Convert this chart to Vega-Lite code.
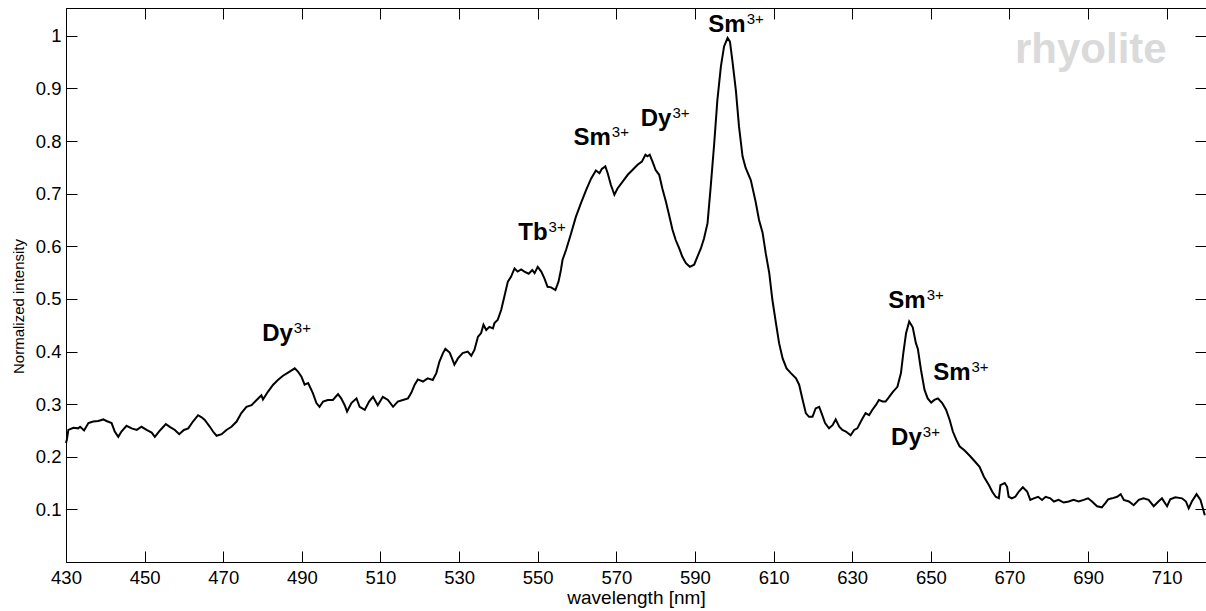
{
  "$schema": "https://vega.github.io/schema/vega-lite/v6.json",
  "width": 1140,
  "height": 554,
  "autosize": "none",
  "padding": {"left": 66, "top": 8, "right": 0, "bottom": 49},
  "background": "white",
  "config": {
    "view": {"stroke": "black", "strokeWidth": 1},
    "font": "Liberation Sans",
    "axis": {
      "grid": false,
      "domainColor": "black",
      "tickColor": "black",
      "tickSize": -11,
      "tickWidth": 1,
      "labelColor": "black",
      "titleColor": "black",
      "labelFont": "Liberation Sans",
      "titleFont": "Liberation Sans",
      "labelFontSize": 18.5,
      "titleFontSize": 19,
      "titleFontWeight": "normal",
      "labelFlush": false,
      "labelOverlap": false
    }
  },
  "datasets": {
    "spectrum": [
      {"w":430.0,"v":0.226},{"w":430.2,"v":0.232},{"w":430.6,"v":0.251},{"w":431.9,"v":0.255},{"w":433.1,"v":0.254},{"w":433.6,"v":0.257},{"w":434.6,"v":0.250},{"w":435.7,"v":0.264},{"w":436.9,"v":0.267},{"w":438.2,"v":0.268},{"w":439.5,"v":0.271},{"w":440.3,"v":0.268},{"w":441.6,"v":0.264},{"w":442.4,"v":0.248},{"w":443.3,"v":0.238},{"w":444.1,"v":0.248},{"w":445.4,"v":0.259},{"w":446.7,"v":0.254},{"w":448.0,"v":0.251},{"w":449.2,"v":0.257},{"w":450.5,"v":0.251},{"w":451.8,"v":0.246},{"w":452.6,"v":0.238},{"w":453.9,"v":0.250},{"w":455.4,"v":0.262},{"w":456.4,"v":0.257},{"w":457.7,"v":0.251},{"w":458.8,"v":0.243},{"w":460.0,"v":0.251},{"w":461.1,"v":0.254},{"w":462.3,"v":0.267},{"w":463.6,"v":0.279},{"w":464.5,"v":0.275},{"w":465.3,"v":0.270},{"w":466.6,"v":0.257},{"w":467.4,"v":0.248},{"w":468.3,"v":0.240},{"w":469.6,"v":0.243},{"w":470.8,"v":0.251},{"w":472.1,"v":0.257},{"w":473.4,"v":0.267},{"w":474.6,"v":0.283},{"w":475.9,"v":0.295},{"w":477.2,"v":0.298},{"w":478.5,"v":0.308},{"w":479.7,"v":0.317},{"w":480.1,"v":0.309},{"w":481.4,"v":0.324},{"w":482.7,"v":0.337},{"w":483.9,"v":0.346},{"w":485.2,"v":0.354},{"w":486.9,"v":0.362},{"w":488.2,"v":0.368},{"w":489.0,"v":0.362},{"w":489.9,"v":0.352},{"w":490.7,"v":0.337},{"w":491.6,"v":0.340},{"w":492.8,"v":0.321},{"w":493.7,"v":0.302},{"w":494.5,"v":0.295},{"w":495.4,"v":0.305},{"w":496.6,"v":0.308},{"w":497.9,"v":0.308},{"w":499.2,"v":0.319},{"w":500.0,"v":0.311},{"w":500.9,"v":0.298},{"w":501.5,"v":0.286},{"w":502.6,"v":0.302},{"w":503.9,"v":0.311},{"w":504.7,"v":0.295},{"w":506.0,"v":0.289},{"w":507.1,"v":0.305},{"w":508.1,"v":0.314},{"w":509.3,"v":0.298},{"w":510.6,"v":0.314},{"w":511.9,"v":0.308},{"w":513.2,"v":0.295},{"w":514.4,"v":0.305},{"w":515.7,"v":0.308},{"w":517.0,"v":0.311},{"w":517.8,"v":0.321},{"w":518.7,"v":0.337},{"w":519.5,"v":0.347},{"w":520.8,"v":0.343},{"w":522.0,"v":0.349},{"w":523.3,"v":0.346},{"w":524.2,"v":0.359},{"w":525.0,"v":0.381},{"w":525.9,"v":0.397},{"w":526.5,"v":0.405},{"w":527.6,"v":0.398},{"w":528.2,"v":0.387},{"w":528.8,"v":0.375},{"w":529.7,"v":0.387},{"w":530.9,"v":0.397},{"w":532.2,"v":0.400},{"w":533.1,"v":0.392},{"w":533.9,"v":0.403},{"w":534.8,"v":0.428},{"w":535.6,"v":0.435},{"w":536.2,"v":0.451},{"w":536.9,"v":0.441},{"w":537.7,"v":0.447},{"w":538.6,"v":0.444},{"w":539.0,"v":0.454},{"w":539.8,"v":0.460},{"w":540.7,"v":0.479},{"w":541.5,"v":0.504},{"w":542.4,"v":0.533},{"w":543.2,"v":0.542},{"w":544.1,"v":0.558},{"w":544.9,"v":0.552},{"w":545.8,"v":0.556},{"w":546.6,"v":0.552},{"w":547.7,"v":0.548},{"w":548.6,"v":0.555},{"w":549.2,"v":0.549},{"w":550.0,"v":0.561},{"w":550.9,"v":0.552},{"w":551.7,"v":0.539},{"w":552.5,"v":0.523},{"w":553.4,"v":0.522},{"w":554.5,"v":0.517},{"w":555.3,"v":0.533},{"w":555.9,"v":0.555},{"w":556.3,"v":0.574},{"w":557.2,"v":0.593},{"w":558.5,"v":0.625},{"w":559.7,"v":0.656},{"w":561.0,"v":0.682},{"w":562.3,"v":0.707},{"w":563.6,"v":0.729},{"w":564.8,"v":0.744},{"w":565.7,"v":0.739},{"w":566.3,"v":0.747},{"w":567.2,"v":0.752},{"w":567.8,"v":0.739},{"w":568.6,"v":0.717},{"w":569.5,"v":0.698},{"w":570.3,"v":0.710},{"w":571.6,"v":0.723},{"w":572.9,"v":0.736},{"w":574.1,"v":0.745},{"w":575.4,"v":0.755},{"w":576.5,"v":0.761},{"w":577.4,"v":0.774},{"w":577.9,"v":0.771},{"w":578.5,"v":0.774},{"w":579.2,"v":0.761},{"w":580.0,"v":0.745},{"w":580.9,"v":0.736},{"w":581.7,"v":0.710},{"w":582.6,"v":0.685},{"w":583.4,"v":0.660},{"w":584.3,"v":0.631},{"w":585.1,"v":0.612},{"w":586.0,"v":0.596},{"w":586.8,"v":0.580},{"w":587.7,"v":0.568},{"w":588.7,"v":0.561},{"w":589.8,"v":0.565},{"w":590.6,"v":0.580},{"w":591.5,"v":0.596},{"w":592.3,"v":0.615},{"w":593.2,"v":0.644},{"w":594.0,"v":0.713},{"w":594.9,"v":0.796},{"w":595.7,"v":0.878},{"w":596.6,"v":0.942},{"w":597.4,"v":0.980},{"w":598.3,"v":0.996},{"w":598.9,"v":0.989},{"w":599.5,"v":0.954},{"w":600.4,"v":0.897},{"w":601.2,"v":0.828},{"w":602.1,"v":0.771},{"w":602.9,"v":0.749},{"w":604.2,"v":0.726},{"w":605.4,"v":0.686},{"w":606.3,"v":0.650},{"w":607.2,"v":0.626},{"w":608.0,"v":0.587},{"w":608.9,"v":0.549},{"w":609.7,"v":0.498},{"w":610.6,"v":0.454},{"w":611.4,"v":0.416},{"w":612.3,"v":0.387},{"w":613.3,"v":0.368},{"w":614.4,"v":0.359},{"w":615.7,"v":0.349},{"w":616.5,"v":0.337},{"w":617.4,"v":0.308},{"w":618.2,"v":0.283},{"w":619.0,"v":0.276},{"w":619.9,"v":0.276},{"w":620.7,"v":0.292},{"w":621.6,"v":0.295},{"w":622.2,"v":0.283},{"w":623.1,"v":0.264},{"w":624.1,"v":0.254},{"w":625.0,"v":0.260},{"w":625.8,"v":0.271},{"w":626.7,"v":0.257},{"w":627.5,"v":0.251},{"w":628.4,"v":0.248},{"w":629.6,"v":0.241},{"w":630.5,"v":0.251},{"w":631.3,"v":0.254},{"w":632.4,"v":0.270},{"w":633.4,"v":0.283},{"w":634.3,"v":0.279},{"w":635.1,"v":0.289},{"w":636.0,"v":0.298},{"w":636.8,"v":0.308},{"w":637.7,"v":0.305},{"w":638.5,"v":0.305},{"w":639.4,"v":0.314},{"w":640.4,"v":0.324},{"w":641.5,"v":0.333},{"w":642.4,"v":0.359},{"w":643.0,"v":0.397},{"w":643.7,"v":0.435},{"w":644.5,"v":0.457},{"w":645.4,"v":0.446},{"w":646.2,"v":0.416},{"w":646.7,"v":0.405},{"w":647.5,"v":0.365},{"w":648.4,"v":0.327},{"w":649.2,"v":0.311},{"w":650.1,"v":0.303},{"w":650.9,"v":0.308},{"w":651.8,"v":0.311},{"w":652.9,"v":0.302},{"w":653.9,"v":0.289},{"w":654.8,"v":0.270},{"w":655.6,"v":0.248},{"w":656.5,"v":0.232},{"w":657.3,"v":0.220},{"w":658.6,"v":0.212},{"w":659.9,"v":0.202},{"w":661.1,"v":0.192},{"w":662.4,"v":0.181},{"w":663.5,"v":0.162},{"w":664.8,"v":0.146},{"w":665.6,"v":0.134},{"w":666.5,"v":0.124},{"w":667.3,"v":0.121},{"w":667.7,"v":0.146},{"w":668.8,"v":0.150},{"w":669.4,"v":0.143},{"w":669.8,"v":0.124},{"w":670.6,"v":0.121},{"w":671.5,"v":0.124},{"w":672.4,"v":0.134},{"w":673.4,"v":0.142},{"w":674.5,"v":0.134},{"w":675.3,"v":0.118},{"w":676.2,"v":0.121},{"w":677.3,"v":0.124},{"w":678.3,"v":0.118},{"w":679.2,"v":0.124},{"w":680.4,"v":0.121},{"w":681.3,"v":0.115},{"w":682.5,"v":0.118},{"w":683.8,"v":0.113},{"w":685.1,"v":0.115},{"w":686.3,"v":0.118},{"w":687.6,"v":0.115},{"w":688.9,"v":0.118},{"w":690.0,"v":0.121},{"w":691.0,"v":0.115},{"w":692.3,"v":0.106},{"w":693.5,"v":0.104},{"w":694.4,"v":0.112},{"w":695.1,"v":0.119},{"w":696.1,"v":0.121},{"w":697.4,"v":0.124},{"w":698.3,"v":0.129},{"w":699.1,"v":0.118},{"w":700.4,"v":0.115},{"w":701.6,"v":0.108},{"w":702.9,"v":0.118},{"w":704.1,"v":0.121},{"w":705.4,"v":0.118},{"w":706.7,"v":0.106},{"w":707.9,"v":0.115},{"w":708.8,"v":0.121},{"w":710.1,"v":0.106},{"w":710.9,"v":0.119},{"w":712.2,"v":0.123},{"w":713.9,"v":0.121},{"w":714.9,"v":0.115},{"w":715.6,"v":0.102},{"w":716.4,"v":0.115},{"w":717.6,"v":0.129},{"w":718.6,"v":0.118},{"w":719.2,"v":0.102},{"w":719.7,"v":0.089}
    ],
    "labels": [
      {"x":487.7,"y":0.420,"ion":"Dy","charge":"3+"},
      {"x":552.5,"y":0.612,"ion":"Tb","charge":"3+"},
      {"x":568.6,"y":0.793,"ion":"Sm","charge":"3+"},
      {"x":584.0,"y":0.828,"ion":"Dy","charge":"3+"},
      {"x":602.9,"y":1.007,"ion":"Sm","charge":"3+"},
      {"x":648.7,"y":0.483,"ion":"Sm","charge":"3+"},
      {"x":660.1,"y":0.346,"ion":"Sm","charge":"3+"},
      {"x":647.7,"y":0.222,"ion":"Dy","charge":"3+"}
    ],
    "watermark": [
      {"x":710,"y":0.949,"t":"rhyolite"}
    ]
  },
  "resolve": {"axis": {"x": "independent", "y": "independent"}},
  "layer": [
    {
      "data": {"name": "spectrum"},
      "mark": {"type": "line", "color": "black", "strokeWidth": 2, "interpolate": "linear"},
      "encoding": {
        "x": {"field": "w", "type": "quantitative",
              "scale": {"domain": [430, 720], "nice": false, "zero": false},
              "axis": {"orient": "bottom", "values": [430,450,470,490,510,530,550,570,590,610,630,650,670,690,710],
                       "title": "wavelength [nm]", "labelPadding": 17, "titleX": 570, "titleY": 41, "titleBaseline": "alphabetic", "titleAlign": "center"}},
        "y": {"field": "v", "type": "quantitative",
              "scale": {"domain": [0, 1.053], "nice": false, "zero": false},
              "axis": {"orient": "left", "values": [0.1,0.2,0.3,0.4,0.5,0.6,0.7,0.8,0.9,1], "format": ".1~f",
                       "title": "Normalized intensity", "titleFontSize": 15, "labelPadding": 16,
                       "titleX": -48, "titleY": 298, "titleAngle": -90, "titleBaseline": "middle", "titleAlign": "center"}}
      }
    },
    {
      "data": {"name": "labels"},
      "mark": {"type": "text", "align": "right", "baseline": "alphabetic", "fontSize": 24, "fontWeight": "bold", "color": "black", "font": "Liberation Sans"},
      "encoding": {
        "x": {"field": "x", "type": "quantitative",
              "axis": {"orient": "top", "values": [430,450,470,490,510,530,550,570,590,610,630,650,670,690,710], "labels": false, "title": null, "domain": false}},
        "y": {"field": "y", "type": "quantitative",
              "axis": {"orient": "right", "values": [0.1,0.2,0.3,0.4,0.5,0.6,0.7,0.8,0.9,1], "labels": false, "title": null, "domain": false}},
        "text": {"field": "ion"}
      }
    },
    {
      "data": {"name": "labels"},
      "mark": {"type": "text", "align": "left", "baseline": "alphabetic", "fontSize": 15, "dx": 1, "dy": -8, "color": "black", "font": "Liberation Sans"},
      "encoding": {
        "x": {"field": "x", "type": "quantitative", "axis": null},
        "y": {"field": "y", "type": "quantitative", "axis": null},
        "text": {"field": "charge"}
      }
    },
    {
      "data": {"name": "watermark"},
      "mark": {"type": "text", "align": "right", "baseline": "alphabetic", "fontSize": 42, "fontWeight": "bold", "color": "#dadada", "font": "Liberation Sans"},
      "encoding": {
        "x": {"field": "x", "type": "quantitative", "axis": null},
        "y": {"field": "y", "type": "quantitative", "axis": null},
        "text": {"field": "t"}
      }
    }
  ]
}
